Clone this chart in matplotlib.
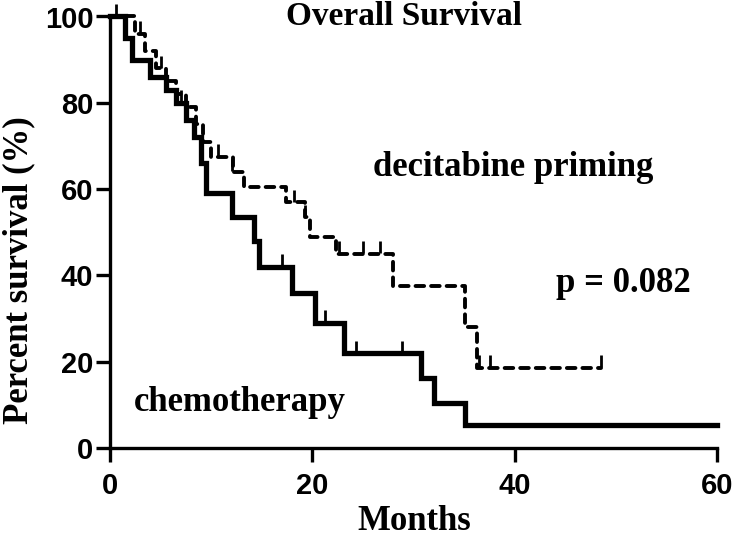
import matplotlib
matplotlib.use("Agg")
import matplotlib.pyplot as plt
import numpy as np

# Chemotherapy (solid) Kaplan-Meier steps
chemo_t = [0, 1.5, 2.2, 4.0, 5.5, 6.5, 7.5, 8.3, 9.0, 9.5, 12.1, 14.2, 14.7, 18.0, 20.3, 23.1, 30.7, 32.0, 35.1, 60]
chemo_s = [100, 95, 90, 86, 83, 80, 76, 72, 66, 59, 53.5, 48, 42, 36, 29, 22, 16.3, 10.5, 5.3, 5.3]
chemo_cens_t = [7.0, 17.0, 21.3, 24.3, 28.9]
chemo_cens_s = [80, 42, 29, 22, 22]

# Decitabine priming (dashed) Kaplan-Meier steps
dec_t = [0, 2.5, 3.5, 4.5, 5.5, 6.5, 7.5, 8.5, 9.2, 10.0, 12.2, 13.2, 17.4, 19.3, 19.8, 22.3, 28.0, 35.1, 36.3, 48.5]
dec_s = [100, 96, 92, 88, 85, 82, 79, 75, 71, 67.5, 64, 60.5, 57, 53.5, 49, 45, 37.5, 28, 18.6, 18.6]
dec_cens_t = [0.6, 3.0, 5.0, 10.7, 12.1, 18.2, 19.3, 22.6, 25.0, 26.7, 36.5, 37.6, 48.5]
dec_cens_s = [100, 96, 88, 67.5, 64, 57, 53.5, 45, 45, 45, 18.6, 18.6, 18.6]

xticks = [0, 20, 40, 60]
yticks = [0, 20, 40, 60, 80, 100]

serif = ["Liberation Serif", "DejaVu Serif"]
sans = ["Liberation Sans", "DejaVu Sans"]

fig = plt.figure(figsize=(7.34, 5.43), dpi=100)
ax = fig.add_axes([110/734, 1-448/543, (717-110)/734, (448-16.5)/543])

ax.step(chemo_t, chemo_s, where="post", color="black", lw=3.8, solid_joinstyle="miter", clip_on=False)
ax.step(dec_t, dec_s, where="post", color="black", lw=2.8, linestyle=(0, (2.2, 1.8)),
        dash_capstyle="round", clip_on=False)
ax.plot(chemo_cens_t, np.array(chemo_cens_s) + 1.5, linestyle="none", marker="|", ms=9, mew=2, color="black", clip_on=False)
ax.plot(dec_cens_t, np.array(dec_cens_s) + 1.5, linestyle="none", marker="|", ms=9, mew=2, color="black", clip_on=False)

ax.set_xlim(0, 60)
ax.set_ylim(0, 100)
ax.set_xticks(xticks)
ax.set_yticks(yticks)
for s in ["top", "right"]:
    ax.spines[s].set_visible(False)
for s in ["left", "bottom"]:
    ax.spines[s].set_linewidth(2.4)
ax.tick_params(axis="both", direction="out", length=10, width=2.4)
ax.tick_params(axis="x", pad=7)
ax.tick_params(axis="y", pad=2)
for lab in ax.get_xticklabels() + ax.get_yticklabels():
    lab.set_family(sans)
    lab.set_fontweight("bold")
    lab.set_fontsize(21)

# axis titles placed to match the reference layout
fig.text(414/734, 1-522/543, "Months", ha="center", va="center",
         family=serif, fontweight="bold", fontsize=25)
fig.text(19/734, 1-270/543, "Percent survival (%)", ha="center", va="center", rotation=90,
         family=serif, fontweight="bold", fontsize=25)

ax.text(0.485, 1.0, "Overall Survival", transform=ax.transAxes, ha="center", va="center",
        family=serif, fontweight="bold", fontsize=24)
ax.text(39.9, 64.9, "decitabine priming", ha="center", va="center", family=serif, fontweight="bold", fontsize=25)
ax.text(50.7, 38.1, "p = 0.082", ha="center", va="center", family=serif, fontweight="bold", fontsize=25)
ax.text(12.8, 10.5, "chemotherapy", ha="center", va="center", family=serif, fontweight="bold", fontsize=25)

fig.savefig("out.png", dpi=100)
